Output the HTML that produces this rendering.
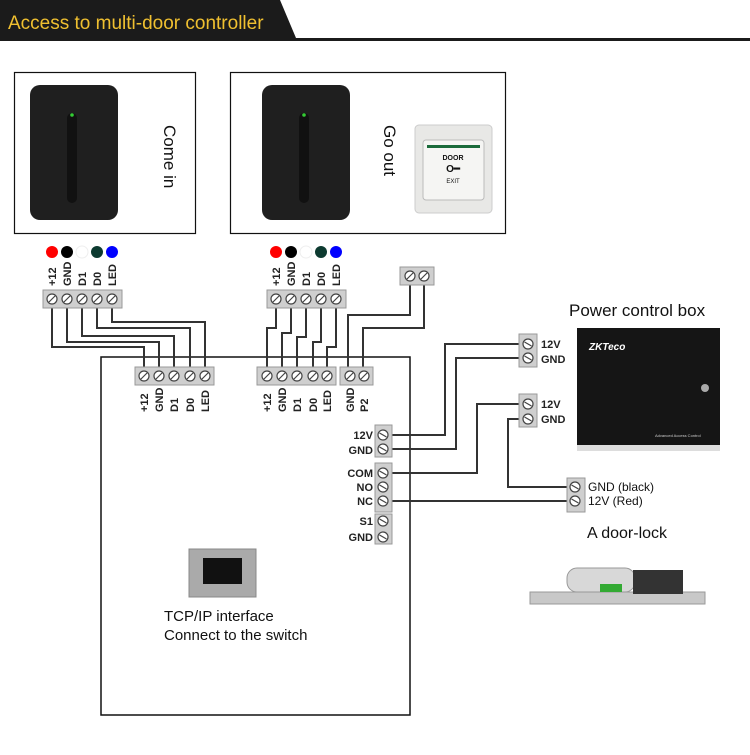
<!DOCTYPE html>
<html><head><meta charset="utf-8"><style>
html,body{margin:0;padding:0;background:#fff;width:750px;height:755px;overflow:hidden}
svg{display:block}
.l{font-family:"Liberation Sans",sans-serif;font-weight:bold;font-size:11px;fill:#222}
.t{font-family:"Liberation Sans",sans-serif;fill:#111}
</style></head><body>
<svg width="750" height="755" viewBox="0 0 750 755" xmlns="http://www.w3.org/2000/svg">
<defs>
<g id="s"><circle r="5" fill="#fff" stroke="#444" stroke-width="1.2"/><line x1="-3" y1="3" x2="3" y2="-3" stroke="#444" stroke-width="1.2"/></g>
<g id="s2"><circle r="5" fill="#fff" stroke="#444" stroke-width="1.2"/><line x1="-3.5" y1="-2" x2="3.5" y2="2" stroke="#444" stroke-width="1.2"/></g>
<g id="rd"><rect x="0" y="0" width="88" height="135" rx="10" fill="#1f1f1f"/><rect x="37" y="28" width="10" height="90" rx="5" fill="#111"/><circle cx="42" cy="30" r="1.8" fill="#3c3"/></g>
</defs>
<polygon points="0,0 280,0 296,38 0,38" fill="#1b1b1b"/>
<rect x="0" y="38" width="750" height="3" fill="#1b1b1b"/>
<text x="8" y="29" class="t" font-size="19" style="fill:#f0c030">Access to multi-door controller</text>
<rect x="14.5" y="72.5" width="181" height="161" fill="#fff" stroke="#111" stroke-width="1.2"/>
<rect x="230.5" y="72.5" width="275" height="161" fill="#fff" stroke="#111" stroke-width="1.2"/>
<use href="#rd" x="30" y="85"/>
<use href="#rd" x="262" y="85"/>
<text class="t" font-size="17" transform="translate(164,125) rotate(90)">Come in</text>
<text class="t" font-size="17" transform="translate(384,125) rotate(90)">Go out</text>
<rect x="415" y="125" width="77" height="88" rx="4" fill="#e8e8e6" stroke="#ccc"/>
<rect x="423" y="140" width="61" height="60" rx="3" fill="#f5f5f3" stroke="#bbb"/>
<rect x="427" y="145" width="53" height="3" fill="#1a6a3a"/>
<text x="453" y="160" class="t" font-size="7" font-weight="bold" text-anchor="middle">DOOR</text>
<text x="453" y="172" class="t" font-size="10" font-weight="bold" text-anchor="middle">O━</text>
<text x="453" y="183" class="t" font-size="6" text-anchor="middle">EXIT</text>
<g>
<circle cx="52" cy="252" r="6" fill="#f00"/><circle cx="67" cy="252" r="6" fill="#000"/><circle cx="82" cy="252" r="6" fill="#fff" stroke="#eee"/><circle cx="97" cy="252" r="6" fill="#0d3a30"/><circle cx="112" cy="252" r="6" fill="#00f"/>
<circle cx="276" cy="252" r="6" fill="#f00"/><circle cx="291" cy="252" r="6" fill="#000"/><circle cx="306" cy="252" r="6" fill="#fff" stroke="#eee"/><circle cx="321" cy="252" r="6" fill="#0d3a30"/><circle cx="336" cy="252" r="6" fill="#00f"/>
</g>
<g class="l">
<text transform="translate(56,286) rotate(-90)">+12</text><text transform="translate(71,286) rotate(-90)">GND</text><text transform="translate(86,286) rotate(-90)">D1</text><text transform="translate(101,286) rotate(-90)">D0</text><text transform="translate(116,286) rotate(-90)">LED</text>
<text transform="translate(280,286) rotate(-90)">+12</text><text transform="translate(295,286) rotate(-90)">GND</text><text transform="translate(310,286) rotate(-90)">D1</text><text transform="translate(325,286) rotate(-90)">D0</text><text transform="translate(340,286) rotate(-90)">LED</text>
</g>
<rect x="101" y="357" width="309" height="358" fill="none" stroke="#111" stroke-width="1.5"/>
<g fill="none" stroke="#333" stroke-width="2">
<polyline points="52,300 52,347 144,347 144,370"/>
<polyline points="67,300 67,342 159,342 159,370"/>
<polyline points="82,300 82,336 174,336 174,370"/>
<polyline points="97,300 97,328 190,328 190,370"/>
<polyline points="112,300 112,322 205,322 205,370"/>
<polyline points="276,300 276,328 267,328 267,370"/>
<polyline points="291,300 291,333 282,333 282,370"/>
<polyline points="306,300 306,337 297,337 297,370"/>
<polyline points="321,300 321,342 313,342 313,370"/>
<polyline points="336,300 336,347 327,347 327,370"/>
<polyline points="410,278 410,315 348,315 348,370"/>
<polyline points="424,278 424,328 363,328 363,370"/>
<polyline points="383,435 445,435 445,344 522,344"/>
<polyline points="383,449 456,449 456,358 522,358"/>
<polyline points="383,473 477,473 477,404 522,404"/>
<polyline points="528,419 508,419 508,487 570,487"/>
<polyline points="383,501 570,501"/>
</g>
<g fill="#cfcfcf" stroke="#999">
<rect x="43" y="290" width="79" height="18"/>
<rect x="267" y="290" width="79" height="18"/>
<rect x="400" y="267" width="34" height="18"/>
<rect x="135" y="367" width="79" height="18"/>
<rect x="257" y="367" width="79" height="18"/>
<rect x="340" y="367" width="33" height="18"/>
<rect x="375" y="425" width="17" height="32"/>
<rect x="375" y="463" width="17" height="49"/>
<rect x="375" y="514" width="17" height="30"/>
<rect x="519" y="334" width="18" height="33"/>
<rect x="519" y="394" width="18" height="33"/>
<rect x="567" y="478" width="18" height="34"/>
</g>
<g>
<use href="#s" x="52" y="299"/><use href="#s" x="67" y="299"/><use href="#s" x="82" y="299"/><use href="#s" x="97" y="299"/><use href="#s" x="112" y="299"/>
<use href="#s" x="276" y="299"/><use href="#s" x="291" y="299"/><use href="#s" x="306" y="299"/><use href="#s" x="321" y="299"/><use href="#s" x="336" y="299"/>
<use href="#s" x="410" y="276"/><use href="#s" x="424" y="276"/>
<use href="#s" x="144" y="376"/><use href="#s" x="159" y="376"/><use href="#s" x="174" y="376"/><use href="#s" x="190" y="376"/><use href="#s" x="205" y="376"/>
<use href="#s" x="267" y="376"/><use href="#s" x="282" y="376"/><use href="#s" x="297" y="376"/><use href="#s" x="313" y="376"/><use href="#s" x="327" y="376"/>
<use href="#s" x="350" y="376"/><use href="#s" x="364" y="376"/>
<use href="#s2" x="383" y="435"/><use href="#s2" x="383" y="449"/>
<use href="#s2" x="383" y="473"/><use href="#s2" x="383" y="487"/><use href="#s2" x="383" y="501"/>
<use href="#s2" x="383" y="521"/><use href="#s2" x="383" y="537"/>
<use href="#s2" x="528" y="344"/><use href="#s2" x="528" y="358"/>
<use href="#s2" x="528" y="404"/><use href="#s2" x="528" y="419"/>
<use href="#s2" x="575" y="487"/><use href="#s2" x="575" y="501"/>
</g>
<g class="l">
<text transform="translate(148,412) rotate(-90)">+12</text><text transform="translate(163,412) rotate(-90)">GND</text><text transform="translate(178,412) rotate(-90)">D1</text><text transform="translate(194,412) rotate(-90)">D0</text><text transform="translate(209,412) rotate(-90)">LED</text>
<text transform="translate(271,412) rotate(-90)">+12</text><text transform="translate(286,412) rotate(-90)">GND</text><text transform="translate(301,412) rotate(-90)">D1</text><text transform="translate(317,412) rotate(-90)">D0</text><text transform="translate(331,412) rotate(-90)">LED</text>
<text transform="translate(354,412) rotate(-90)">GND</text><text transform="translate(368,412) rotate(-90)">P2</text>
</g>
<g class="l" text-anchor="end">
<text x="373" y="439">12V</text><text x="373" y="454">GND</text>
<text x="373" y="477">COM</text><text x="373" y="491">NO</text><text x="373" y="505">NC</text>
<text x="373" y="525">S1</text><text x="373" y="541">GND</text>
</g>
<g class="l">
<text x="541" y="348">12V</text><text x="541" y="363">GND</text>
<text x="541" y="408">12V</text><text x="541" y="423">GND</text>
</g>
<text x="588" y="491" class="t" font-size="12">GND (black)</text>
<text x="588" y="505" class="t" font-size="12">12V (Red)</text>
<text x="569" y="316" class="t" font-size="17">Power control box</text>
<text x="587" y="538" class="t" font-size="16">A door-lock</text>
<rect x="577" y="328" width="143" height="119" fill="#151515"/>
<rect x="577" y="445" width="143" height="6" fill="#ddd"/>
<text x="589" y="350" font-family="Liberation Sans,sans-serif" font-weight="bold" font-style="italic" font-size="10" fill="#fff">ZKTeco</text>
<circle cx="705" cy="388" r="4" fill="#aaa"/>
<text x="655" y="437" font-family="Liberation Sans,sans-serif" font-size="4" fill="#ccc">Advanced Access Control</text>
<rect x="530" y="592" width="175" height="12" fill="#c8c8c8" stroke="#999"/>
<rect x="567" y="568" width="68" height="24" rx="10" fill="#d8d8d8" stroke="#999"/>
<rect x="633" y="570" width="50" height="24" fill="#333"/>
<rect x="600" y="584" width="22" height="8" fill="#3a3"/>
<rect x="189" y="549" width="67" height="48" fill="#aaa" stroke="#888"/>
<rect x="203" y="558" width="39" height="26" fill="#111"/>
<text x="164" y="621" class="t" font-size="15">TCP/IP interface</text>
<text x="164" y="640" class="t" font-size="15">Connect to the switch</text>
</svg>
</body></html>
